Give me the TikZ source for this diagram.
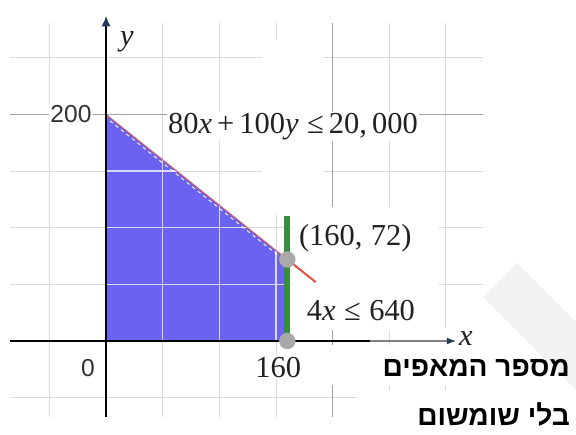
\documentclass[tikz,border=0pt]{standalone}
\usepackage{fontspec}
\setmainfont{Liberation Serif}
\newfontfamily\hebfont[Script=Hebrew]{Liberation Sans}
\newfontfamily\tickfont{Liberation Sans}
\usetikzlibrary{arrows.meta,calc}
\TeXXeTstate=1
\definecolor{regionfill}{RGB}{106,98,240}
\definecolor{gridlight}{RGB}{218,218,218}
\definecolor{griddark}{RGB}{160,160,160}
\definecolor{edgered}{RGB}{226,86,76}
\definecolor{limitgreen}{RGB}{56,142,60}
\definecolor{cornergray}{RGB}{170,170,170}
\definecolor{axisnavy}{RGB}{38,56,88}
\definecolor{markgray}{RGB}{242,242,242}

\begin{document}
\begin{tikzpicture}[x=0.034cm,y=0.034cm,>=Latex,
  gridline/.style={gridlight, line width=0.8pt},
  majorline/.style={griddark, line width=0.9pt},
  innerline/.style={white!75!regionfill, line width=1.1pt},
  blank/.style={fill=white, draw=none},
  formula/.style={fill=white, inner sep=1pt, text=black!87, font=\fontsize{26}{28}\selectfont},
  ticklabel/.style={fill=white, inner sep=1pt, text=black!80, font=\tickfont\fontsize{21}{23}\selectfont},
  heblabel/.style={anchor=east, inner sep=0pt, font=\hebfont\bfseries\fontsize{24}{26}\selectfont},
  vertexdot/.style={circle, fill=cornergray, minimum size=14pt, inner sep=0pt}]
  \useasboundingbox (-93.6,-82.1) rectangle (414.8,301.0);
  \coordinate (O) at (0,0);
  \coordinate (A) at (0,200);
  \coordinate (P) at (160,72);
  \coordinate (B) at (160,0);
  \coordinate (R) at (185,52);
  \coordinate (G) at (160,110);
  % grid
  \foreach \gx in {-50,50,100,150,250,300}
    \draw[gridline] (\gx,-67) -- (\gx,280.7);
  \foreach \gy in {-50,50,100,150,250}
    \draw[gridline] (-84.7,\gy) -- (332.7,\gy);
  \draw[majorline] (200,-67) -- (200,280.7);
  \draw[majorline] (-84.7,200) -- (332.7,200);
  % white areas behind the labels
  \fill[blank] (137.7,111.2) rectangle (191.5,265.7);
  \fill[blank] (164,9.7) rectangle (294,118.3);
  \fill[blank] (295,11.5) rectangle (340,-3.5);
  \fill[blank] (193.3,-3.5) rectangle (414.8,-38.8);
  \fill[blank] (221.5,-43.2) rectangle (414.8,-82.1);
  \fill[markgray] (332.7,38.8) -- (362.8,68.8) -- (414.8,16.8) -- (414.8,-43.2) -- cycle;
  % feasible region
  \fill[regionfill] (O) -- (A) -- (P) -- (B) -- cycle;
  \begin{scope}
    \clip (O) -- (A) -- (P) -- (B) -- cycle;
    \foreach \g in {50,100,150} {
      \draw[innerline] (\g,0) -- (\g,200);
      \draw[innerline] (0,\g) -- (160,\g);
    }
  \end{scope}
  \draw[white, line width=0.8pt, dash pattern=on 3pt off 3pt]
    ($(A)+(-1.4,-1.8)$) -- ($(P)+(-1.4,-1.8)$);
  \draw[edgered, line width=0.7pt] (A) -- (P);
  \draw[edgered, line width=1.8pt] (P) -- (R);
  \draw[limitgreen, line width=5pt] (B) -- (G);
  % axes
  \coordinate (xl) at (-84.7,0);
  \coordinate (xm) at (233,0);
  \coordinate (xr) at (309,0);
  \coordinate (yb) at (0,-67);
  \coordinate (yt) at (0,287);
  \draw[line width=1.5pt] (xl) -- (xm);
  \draw[gray, line width=1.2pt, -{Latex[length=8pt,width=6pt,color=axisnavy]}] (xm) -- (xr);
  \draw[line width=1.5pt, -{Latex[length=9pt,width=8pt,color=axisnavy]}] (yb) -- (yt);
  \node[vertexdot] (pdot) at (P) {};
  \node[vertexdot] (bdot) at (B) {};
  % labels
  \node[formula] (ineqA) at (165,189) {80\textit{x}\,+\,100\textit{y}\;≤\,20,\,000};
  \node[formula] (ptlab) at (220,91) {(160,\;72)};
  \node[formula] (ineqB) at (225,27) {4\textit{x}\;≤\;640};
  \node[formula, fill=none] (ylab) at (18.5,264) {\textit{y}};
  \node[formula, fill=none] (xlab) at (317.7,2.6) {\textit{x}};
  \node[ticklabel] (t200) at (-31,200) {200};
  \node[ticklabel, fill=none] (t0) at (-16,-24) {0};
  \node[formula] (t160) at (152,-23) {160};
  \node[heblabel] (hebA) at (409.5,-24) {\beginR מספר המאפים\endR};
  \node[heblabel] (hebB) at (409.5,-65) {\beginR בלי שומשום\endR};
\end{tikzpicture}
\end{document}
